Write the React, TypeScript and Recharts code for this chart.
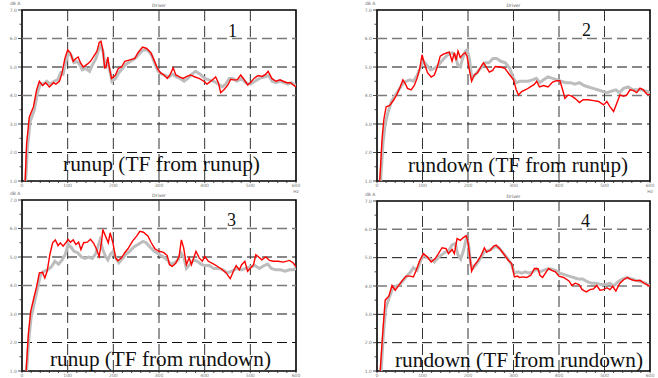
import React from 'react';
import { LineChart, Line, XAxis, YAxis, ReferenceLine, ReferenceArea } from 'recharts';

type Pt = [number, number];

// tick and grid values
const xTicks = [0, 20, 40, 60, 80, 100, 120, 140, 160, 180, 200, 220, 240, 260, 280, 300, 320, 340, 360, 380, 400, 420, 440, 460, 480, 500, 520, 540, 560, 580, 600];
const yTicks = [1, 1.5, 2, 2.5, 3, 3.5, 4, 4.5, 5, 5.5, 6, 6.5, 7];
const xGrid = [100, 200, 300, 400, 500];
const yGrid = [2, 3, 4, 5, 6];
const yGridGray = [4, 6];

const titles = ['runup (TF from runup)', 'rundown (TF from runup)', 'runup (TF from rundown)', 'rundown (TF from rundown)'];
const numbers = ['1', '2', '3', '4'];

// panel 1: runup, TF from runup
const p1Red: Pt[] = [[7, 1.0], [10, 2.3], [16, 3.25], [25, 3.6], [32, 4.2], [38, 4.5], [45, 4.35], [52, 4.45], [60, 4.3], [69, 4.45], [74, 4.4], [82, 4.5], [87, 4.75], [94, 5.3], [100, 5.6], [106, 5.5], [112, 5.2], [118, 5.3], [123, 5.35], [128, 5.15], [134, 5.0], [143, 5.1], [150, 5.2], [158, 5.4], [164, 5.55], [169, 5.85], [173, 5.9], [177, 5.6], [181, 4.97], [184, 5.0], [188, 5.35], [191, 5.0], [196, 4.6], [204, 4.7], [211, 4.95], [218, 5.0], [225, 5.2], [236, 5.25], [247, 5.3], [254, 5.5], [264, 5.7], [273, 5.65], [282, 5.5], [289, 5.25], [296, 4.97], [303, 4.8], [311, 4.72], [318, 4.6], [324, 4.72], [331, 4.97], [337, 4.72], [345, 4.65], [353, 4.6], [361, 4.67], [369, 4.72], [379, 4.65], [388, 4.6], [398, 4.5], [405, 4.4], [415, 4.52], [424, 4.65], [430, 4.45], [435, 4.1], [442, 4.2], [451, 4.37], [457, 4.57], [462, 4.55], [471, 4.55], [479, 4.72], [486, 4.57], [494, 4.37], [500, 4.45], [508, 4.6], [517, 4.7], [526, 4.67], [534, 4.75], [539, 4.85], [547, 4.6], [556, 4.5], [565, 4.55], [572, 4.5], [580, 4.45], [588, 4.45], [594, 4.37], [600, 4.3]];
const p1Gray: Pt[] = [[8, 1.0], [12, 2.2], [18, 3.1], [27, 3.5], [34, 4.1], [40, 4.4], [47, 4.4], [54, 4.5], [62, 4.4], [70, 4.5], [78, 4.55], [85, 4.8], [90, 4.75], [96, 5.2], [102, 5.5], [108, 5.4], [114, 5.15], [120, 5.2], [126, 5.1], [132, 4.9], [140, 4.95], [148, 4.85], [155, 5.1], [162, 5.3], [168, 5.6], [173, 5.75], [178, 5.5], [182, 4.95], [187, 5.2], [192, 4.9], [197, 4.5], [205, 4.6], [212, 4.8], [220, 4.95], [228, 5.1], [238, 5.2], [248, 5.3], [256, 5.45], [265, 5.6], [274, 5.6], [283, 5.45], [290, 5.15], [298, 4.85], [306, 4.75], [314, 4.7], [322, 4.65], [330, 4.75], [338, 4.65], [346, 4.6], [355, 4.5], [363, 4.6], [372, 4.75], [380, 4.85], [390, 4.75], [400, 4.6], [410, 4.55], [420, 4.5], [430, 4.4], [438, 4.3], [446, 4.4], [454, 4.6], [462, 4.6], [470, 4.5], [480, 4.6], [490, 4.45], [500, 4.4], [510, 4.5], [520, 4.6], [530, 4.65], [540, 4.7], [548, 4.5], [556, 4.45], [565, 4.5], [574, 4.45], [582, 4.4], [590, 4.45], [600, 4.35]];

// panel 2: rundown, TF from runup
const p2Red: Pt[] = [[6, 1.0], [11, 2.45], [15, 3.15], [20, 3.6], [28, 3.65], [37, 3.85], [44, 4.05], [51, 4.3], [57, 4.55], [62, 4.42], [67, 4.25], [75, 4.2], [82, 4.35], [88, 4.6], [94, 4.95], [99, 5.43], [104, 5.13], [111, 4.8], [119, 4.65], [126, 4.72], [132, 4.97], [139, 5.38], [146, 5.45], [154, 5.5], [159, 5.52], [165, 5.2], [170, 5.5], [174, 5.24], [178, 5.56], [183, 5.33], [189, 5.45], [194, 5.5], [198, 5.37], [203, 4.9], [208, 4.5], [214, 4.72], [221, 4.8], [228, 5.0], [234, 5.15], [240, 5.0], [247, 4.82], [254, 4.88], [260, 5.02], [271, 5.0], [281, 4.95], [292, 4.72], [300, 4.55], [306, 4.2], [311, 4.02], [318, 4.14], [329, 4.22], [337, 4.3], [345, 4.38], [351, 4.5], [357, 4.3], [366, 4.35], [376, 4.3], [386, 4.47], [395, 4.52], [402, 4.52], [408, 4.2], [413, 3.9], [420, 4.02], [428, 3.98], [435, 3.9], [445, 3.75], [453, 3.85], [464, 3.85], [476, 3.82], [487, 3.79], [498, 3.67], [505, 3.79], [512, 3.61], [520, 3.44], [527, 3.73], [534, 4.02], [542, 3.97], [549, 4.02], [556, 4.2], [563, 4.18], [571, 4.1], [578, 4.26], [585, 4.2], [593, 4.05], [600, 4.02]];
const p2Gray: Pt[] = [[8, 1.0], [13, 2.3], [18, 3.0], [24, 3.4], [32, 3.8], [40, 4.0], [48, 4.2], [56, 4.4], [64, 4.5], [72, 4.55], [80, 4.5], [88, 4.7], [96, 5.0], [102, 5.2], [110, 5.05], [118, 4.9], [126, 4.95], [134, 5.05], [142, 5.2], [150, 5.35], [158, 5.45], [165, 5.5], [172, 5.4], [178, 5.05], [183, 5.0], [188, 5.3], [194, 5.55], [198, 5.6], [203, 5.3], [208, 4.65], [214, 4.7], [222, 4.85], [230, 5.0], [238, 5.15], [246, 5.15], [255, 5.3], [263, 5.3], [272, 5.2], [282, 5.15], [292, 4.95], [300, 4.6], [306, 4.45], [314, 4.5], [322, 4.5], [332, 4.5], [342, 4.55], [350, 4.6], [358, 4.45], [366, 4.55], [376, 4.65], [386, 4.6], [396, 4.55], [405, 4.5], [415, 4.45], [425, 4.45], [435, 4.4], [445, 4.45], [455, 4.35], [465, 4.3], [475, 4.25], [485, 4.2], [495, 4.15], [505, 4.1], [515, 4.15], [525, 4.2], [533, 4.1], [542, 4.25], [552, 4.3], [562, 4.2], [572, 4.2], [582, 4.2], [592, 4.15], [600, 4.1]];

// panel 3: runup, TF from rundown
const p3Red: Pt[] = [[9, 1.0], [14, 2.32], [19, 3.09], [25, 3.5], [32, 3.96], [38, 4.44], [45, 4.46], [50, 4.26], [55, 4.5], [61, 5.08], [67, 5.5], [73, 5.6], [79, 5.4], [84, 5.5], [90, 5.38], [96, 5.5], [101, 5.62], [106, 5.52], [112, 5.6], [118, 5.44], [124, 5.52], [129, 5.26], [135, 5.5], [143, 5.52], [150, 5.62], [157, 5.48], [163, 5.28], [169, 5.02], [174, 5.5], [177, 5.96], [183, 5.73], [189, 5.5], [193, 5.85], [199, 5.5], [205, 4.97], [210, 4.87], [218, 4.97], [225, 5.15], [232, 5.29], [242, 5.56], [251, 5.73], [258, 5.9], [266, 5.87], [276, 5.73], [283, 5.5], [291, 5.29], [300, 5.2], [310, 5.16], [318, 5.05], [323, 4.73], [329, 4.67], [337, 4.79], [344, 5.02], [349, 5.6], [354, 5.32], [360, 4.73], [366, 4.97], [371, 4.73], [381, 5.2], [388, 4.97], [395, 4.85], [400, 5.02], [408, 4.85], [419, 4.76], [430, 4.65], [437, 4.58], [447, 4.44], [456, 4.24], [463, 4.5], [469, 4.7], [476, 4.55], [481, 4.73], [488, 4.85], [494, 4.5], [501, 4.62], [507, 4.73], [512, 5.08], [517, 5.02], [525, 4.9], [534, 5.0], [542, 4.88], [550, 4.85], [561, 4.85], [572, 4.82], [586, 4.88], [594, 4.79], [600, 4.65]];
const p3Gray: Pt[] = [[10, 1.0], [15, 2.1], [20, 2.9], [27, 3.4], [34, 3.9], [40, 4.35], [48, 4.5], [56, 4.55], [64, 4.65], [72, 4.85], [80, 4.75], [88, 4.9], [95, 5.1], [101, 5.45], [107, 5.35], [114, 5.2], [122, 5.15], [130, 5.0], [138, 4.95], [146, 5.0], [154, 4.95], [161, 5.1], [167, 5.4], [171, 5.6], [176, 5.3], [182, 5.05], [188, 4.9], [194, 5.1], [200, 5.2], [206, 4.95], [212, 4.8], [220, 4.95], [228, 5.1], [236, 5.2], [245, 5.35], [255, 5.45], [265, 5.55], [272, 5.5], [280, 5.35], [290, 5.2], [300, 5.1], [310, 5.0], [318, 4.9], [326, 4.75], [334, 4.8], [342, 4.9], [348, 5.15], [354, 5.0], [360, 4.6], [368, 4.75], [376, 4.9], [384, 4.85], [392, 4.75], [400, 4.7], [410, 4.7], [420, 4.6], [430, 4.6], [440, 4.55], [450, 4.45], [460, 4.5], [470, 4.6], [480, 4.55], [490, 4.6], [500, 4.65], [510, 4.7], [520, 4.6], [530, 4.7], [538, 4.75], [546, 4.6], [556, 4.55], [566, 4.55], [576, 4.5], [586, 4.55], [594, 4.55], [600, 4.6]];

// panel 4: rundown, TF from rundown
const p4Red: Pt[] = [[7, 1.0], [13, 2.44], [18, 3.5], [26, 3.64], [33, 4.02], [40, 3.85], [48, 4.02], [55, 4.18], [64, 4.35], [73, 4.35], [80, 4.32], [86, 4.55], [94, 4.9], [102, 5.14], [111, 5.02], [119, 4.85], [128, 4.97], [135, 5.14], [143, 5.35], [152, 5.32], [157, 5.14], [165, 5.29], [170, 5.14], [176, 5.67], [183, 5.61], [189, 5.7], [196, 5.78], [200, 5.55], [205, 4.9], [208, 4.52], [214, 4.73], [221, 4.88], [228, 5.05], [236, 5.35], [241, 5.2], [249, 5.26], [256, 5.4], [262, 5.44], [271, 5.29], [279, 5.12], [289, 4.9], [296, 4.79], [302, 4.32], [309, 4.35], [313, 4.3], [321, 4.32], [329, 4.3], [338, 4.38], [346, 4.62], [354, 4.61], [358, 4.38], [364, 4.3], [372, 4.5], [377, 4.62], [384, 4.55], [392, 4.5], [400, 4.35], [410, 4.3], [422, 4.18], [428, 4.02], [436, 4.1], [444, 4.05], [451, 3.87], [460, 3.79], [468, 3.87], [476, 3.9], [483, 4.02], [490, 3.85], [498, 3.87], [505, 3.94], [512, 3.87], [518, 3.99], [525, 3.82], [533, 4.08], [542, 4.22], [550, 4.3], [560, 4.22], [569, 4.18], [578, 4.2], [589, 4.08], [600, 3.99]];
const p4Gray: Pt[] = [[9, 1.0], [14, 2.3], [19, 3.2], [26, 3.55], [34, 3.9], [42, 4.0], [50, 4.05], [58, 4.2], [66, 4.35], [74, 4.5], [80, 4.65], [88, 4.55], [95, 4.85], [102, 5.1], [110, 5.0], [118, 4.95], [126, 4.85], [134, 5.0], [142, 5.1], [150, 5.2], [158, 5.25], [165, 5.45], [172, 5.5], [178, 5.1], [184, 4.95], [190, 5.25], [196, 5.65], [201, 5.5], [206, 4.75], [212, 4.65], [220, 4.8], [228, 5.0], [236, 5.2], [244, 5.25], [252, 5.3], [260, 5.4], [268, 5.35], [278, 5.15], [288, 4.95], [296, 4.75], [302, 4.45], [310, 4.5], [318, 4.45], [326, 4.5], [334, 4.45], [342, 4.5], [350, 4.6], [358, 4.5], [366, 4.55], [374, 4.6], [382, 4.6], [392, 4.55], [402, 4.45], [412, 4.4], [422, 4.35], [432, 4.3], [442, 4.25], [452, 4.25], [462, 4.15], [472, 4.1], [482, 4.1], [492, 4.05], [502, 4.05], [512, 4.1], [520, 4.0], [530, 4.15], [540, 4.25], [550, 4.3], [560, 4.25], [570, 4.2], [580, 4.15], [590, 4.1], [600, 4.0]];

const toRows = (pts: Pt[]) => pts.map(([x, y]) => ({ x, y }));

// plot-area boxes: left, right, top, bottom
const panels = [
  { box: [22, 296, 10, 181], red: p1Red, gray: p1Gray, label: [63, 171, 197], num: [228, 37], hz: true },
  { box: [377, 650, 10, 181], red: p2Red, gray: p2Gray, label: [408, 172, 220], num: [582, 36], hz: true },
  { box: [22, 296, 200, 371], red: p3Red, gray: p3Gray, label: [50, 366, 221], num: [227, 226], hz: false },
  { box: [377, 650, 201, 371], red: p4Red, gray: p4Gray, label: [395, 367, 248], num: [581, 227], hz: false },
];

const small = { fontFamily: 'DejaVu Sans, sans-serif', fontSize: 4.5, fill: '#777' };
const serif = '"Liberation Serif", "DejaVu Serif", "Times New Roman", serif';

function YTick(props: any) {
  const { x, y, payload } = props;
  const v = payload.value;
  const major = Number.isInteger(v);
  return (
    <g>
      <line x1={x - (major ? 4 : 2.5)} x2={x} y1={y} y2={y} stroke="#222" strokeWidth={0.8} />
      {major && (
        <text x={x - 5} y={y + 1.6} textAnchor="end" {...small}>
          {v.toFixed(1)}
        </text>
      )}
    </g>
  );
}

function XTick(props: any) {
  const { x, y, payload } = props;
  const v = payload.value;
  const major = v % 100 === 0;
  return (
    <g>
      <line x1={x} x2={x} y1={y} y2={y + 2} stroke="#222" strokeWidth={0.8} />
      {major && (
        <text x={x} y={y + 5.5} textAnchor="middle" {...small}>
          {v === 0 ? '0' : v.toFixed(0)}
        </text>
      )}
    </g>
  );
}

function Panel({ p }: { p: (typeof panels)[number] }) {
  const [l, r, t, b] = p.box;
  const padL = 20, padT = 10, padR = 8, padB = 12;
  return (
    <div style={{ position: 'absolute', left: l - padL, top: t - padT }}>
      <LineChart width={r - l + padL + padR} height={b - t + padT + padB} margin={{ top: padT, right: padR, bottom: 0, left: 0 }}>
        <XAxis
          type="number"
          dataKey="x"
          domain={[0, 600]}
          ticks={xTicks}
          interval={0}
          height={padB}
          tickSize={0}
          tickMargin={0}
          axisLine={false}
          tick={<XTick />}
          allowDataOverflow
        />
        <YAxis
          type="number"
          dataKey="y"
          domain={[1, 7]}
          ticks={yTicks}
          interval={0}
          width={padL}
          tickSize={0}
          tickMargin={0}
          axisLine={false}
          tick={<YTick />}
          allowDataOverflow
        />
        {yGrid.map((v) => (
          <ReferenceLine
            key={'h' + v}
            y={v}
            stroke={yGridGray.includes(v) ? '#7a7a7a' : '#111'}
            strokeWidth={yGridGray.includes(v) ? 1.5 : 1}
            strokeDasharray="10 5"
          />
        ))}
        {xGrid.map((v) => (
          <ReferenceLine key={'v' + v} x={v} stroke="#333" strokeWidth={1} strokeDasharray="11 5" />
        ))}
        <Line
          data={toRows(p.gray)}
          dataKey="y"
          type="linear"
          stroke="#bdbdbd"
          strokeWidth={3}
          dot={false}
          activeDot={false}
          isAnimationActive={false}
        />
        <Line
          data={toRows(p.red)}
          dataKey="y"
          type="linear"
          stroke="#ff0000"
          strokeWidth={1.4}
          dot={false}
          activeDot={false}
          isAnimationActive={false}
        />
        <ReferenceArea x1={0} x2={600} y1={1} y2={7} fill="none" fillOpacity={0} stroke="#000" strokeWidth={1.6} />
      </LineChart>
    </div>
  );
}

export default function App() {
  return (
    <div style={{ position: 'absolute', left: 0, top: 0, width: 658, height: 378, background: '#fff', overflow: 'hidden' }}>
      {panels.map((p, i) => (
        <Panel key={i} p={p} />
      ))}
      <svg width={658} height={378} style={{ position: 'absolute', left: 0, top: 0, pointerEvents: 'none' }}>
        {panels.map((p, i) => {
          const [l, r, t, b] = p.box;
          return (
            <g key={i}>
              <text x={(l + r) / 2} y={t - 3} textAnchor="middle" {...small} fill="#555">
                Driver
              </text>
              <text x={l - 12} y={t - 5} {...small}>
                dB A
              </text>
              {p.hz && (
                <text x={r} y={b + 12} textAnchor="middle" {...small}>
                  Hz
                </text>
              )}
              <text
                x={p.label[0]}
                y={p.label[1]}
                textLength={p.label[2]}
                lengthAdjust="spacingAndGlyphs"
                fontFamily={serif}
                fontSize={20}
                fill="#111"
              >
                {titles[i]}
              </text>
              <text x={p.num[0]} y={p.num[1]} fontFamily={serif} fontSize={18} fill="#111">
                {numbers[i]}
              </text>
            </g>
          );
        })}
      </svg>
    </div>
  );
}
